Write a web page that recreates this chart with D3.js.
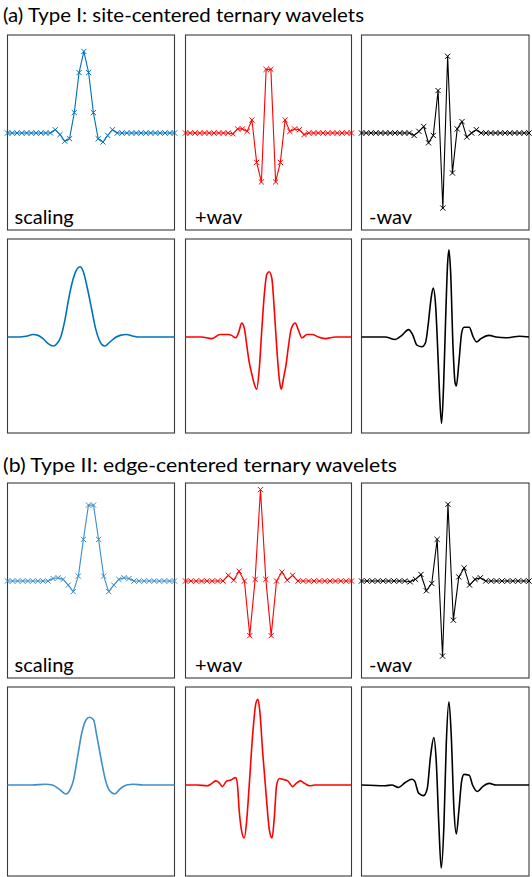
<!DOCTYPE html>
<html><head><meta charset="utf-8">
<script src="https://cdn.jsdelivr.net/npm/d3@7"></script>
<style>body{margin:0;background:#fff}svg{display:block}</style>
</head><body>
<script>
// ---------- data ----------
const titles = ["(a) Type I: site-centered ternary wavelets", "(b) Type II: edge-centered ternary wavelets"];
const panelLabels = ["scaling", "+wav", "-wav"];

// filter coefficients (markers), uniform sample grid
const scalingA = [0,0,0,0,0,0,0,0,0,0, 0.04,-0.02,-0.10,-0.07,0.25,0.74,1.0,0.74,0.25,-0.07,-0.11,-0.03,0.04, 0,0,0,0,0,0,0,0,0,0,0,0,0];
const plusA    = [0,0,0,0,0,0,0,0,0,0, -0.01,0.05,0.05,0.02,0.16,-0.36,-0.60,0.78,0.78,-0.60,-0.36,0.16,0.02,0.05,0.04,-0.02, 0,0,0,0,0,0,0,0,0,0];
const minusA   = [0,0,0,0,0,0,0,0,0,0,0, -0.03,0.02,0.08,-0.12,-0.03,0.52,-0.92,0.94,-0.49,0.05,0.14,-0.05,0.0,0.04, 0,0,0,0,0,0,0,0,0,0,0];
const scalingB = [0,0,0,0,0,0,0,0,0, 0.03,0.04,0.02,-0.05,-0.13,0.06,0.51,0.93,0.93,0.51,0.06,-0.13,-0.05,0.02,0.04,0.03, 0,0,0,0,0,0,0,0,0];
const plusB    = [0,0,0,0,0,0,0, 0.0,0.07,0.01,0.12,0.0,-0.67,0.02,1.12,0.02,-0.67,0.0,0.11,0.01,0.07,0.0, 0,0,0,0,0,0,0,0,0,0];
const minusB   = [0,0,0,0,0,0,0,0,0, -0.01,0.02,0.08,-0.12,-0.03,0.51,-0.92,0.94,-0.48,0.05,0.16,-0.05,0.02,0.04, 0,0,0,0,0,0,0,0,0];

// limit functions: [position (0-100 across panel), value]
const scalingAFn = [[0,0],[7.2,0],[11.2,0.01],[15.3,0.03],[18.3,0.02],[21.3,-0.02],[24.3,-0.08],[27.7,-0.11],[29.7,-0.08],[31.9,0],[34.3,0.2],[36.3,0.43],[38.4,0.64],[40.4,0.78],[43.4,0.86],[45.4,0.8],[47.8,0.6],[50.4,0.34],[52.8,0.1],[54.8,-0.03],[56.4,-0.09],[58.4,-0.11],[61.4,-0.06],[65.1,0],[67.5,0.02],[71.1,0.03],[75.5,0.01],[78.5,0],[100,0]];
const plusAFn = [[0,0],[9.7,0],[15.7,-0.02],[20.8,0.03],[25.8,0.03],[27.8,0.02],[30.2,-0.01],[31.9,0.05],[33.9,0.17],[35.5,0.1],[36.9,-0.1],[38.3,-0.3],[39.9,-0.45],[41.5,-0.58],[42.9,-0.64],[44.4,-0.4],[46.0,0.1],[47.6,0.55],[49.0,0.77],[50.4,0.8],[52.0,0.72],[53.6,0.3],[55.2,-0.2],[56.7,-0.55],[57.7,-0.64],[59.1,-0.5],[60.5,-0.35],[62.1,-0.1],[63.7,0.1],[66.1,0.17],[68.1,0.08],[70.2,-0.01],[73.2,0.03],[76.2,0.03],[80.2,0],[84.3,-0.02],[90.3,0],[100,0]];
const minusAFn = [[0,0],[14.1,0],[20.1,-0.03],[24.1,0.02],[28.1,0.09],[30.5,0.03],[33.1,-0.1],[36.1,-0.12],[38.2,-0.07],[39.8,0.15],[41.4,0.45],[42.8,0.6],[44.2,0.4],[45.8,-0.3],[46.6,-0.7],[47.8,-1.06],[49.0,-0.6],[50.2,0.2],[51.4,0.9],[52.2,1.07],[53.2,0.8],[54.6,-0.1],[55.8,-0.55],[56.6,-0.6],[58.2,-0.3],[59.8,0.05],[61.2,0.12],[64.3,0.12],[66.7,0],[68.7,-0.06],[71.3,-0.02],[76.3,0.02],[80.3,0],[86.3,-0.01],[94.4,0.01],[100,0]];
const scalingBFn = [[0,0],[14.7,0],[22.8,0.01],[26.9,0],[30.9,-0.05],[34.9,-0.11],[37.4,-0.06],[39.4,0.05],[42.0,0.35],[44.6,0.65],[47.1,0.8],[49.1,0.83],[51.5,0.8],[53.5,0.6],[56.2,0.3],[58.8,0.05],[61.2,-0.07],[64.2,-0.11],[67.3,-0.05],[71.3,0],[75.4,0.01],[81.4,0],[100,0]];
const plusBFn = [[0,0],[7.1,0],[13.1,-0.01],[15.2,0.01],[18.2,0.05],[20.2,0.03],[22.2,-0.02],[24.8,0.05],[27.3,0.06],[30.3,0.09],[31.3,0],[32.3,-0.3],[33.7,-0.55],[35.4,-0.65],[36.8,-0.45],[38.4,0],[40.4,0.6],[42.4,1.0],[43.6,1.05],[44.8,0.9],[46.5,0.4],[48.5,-0.1],[50.5,-0.55],[52.1,-0.65],[53.5,-0.4],[54.9,0],[56.6,0.08],[58.6,0.07],[61.6,0.05],[64.6,-0.02],[66.7,0.02],[69.3,0.05],[71.7,0.02],[74.7,-0.01],[77.8,0],[100,0]];
const minusBFn = [[0,0],[14.1,-0.01],[18.1,0],[22.1,-0.03],[26.1,0.03],[30.1,0.07],[31.7,0.05],[34.1,-0.1],[37.1,-0.13],[39.2,-0.05],[41.2,0.35],[43.2,0.58],[44.6,0.3],[46.2,-0.5],[47.6,-1.02],[49.2,-0.5],[50.6,0.5],[52.2,1.02],[53.6,0.6],[55.2,-0.3],[56.6,-0.6],[58.2,-0.3],[59.8,0.05],[61.2,0.13],[64.3,0.12],[66.3,0],[69.3,-0.08],[72.3,-0.02],[76.3,0.02],[80.3,0],[88.4,0],[100,0]];

// ---------- layout ----------
const W = 532, H = 877;
const colX = [7.5, 185.5, 361.5];
const colW = [167, 166, 167.5];
const rowTop = [35, 239, 483, 687];
const rowH = [195, 194, 195, 189];
const zeroOff = 98;      // zero line offset from panel top
const unitPx = 81.6;     // pixels per unit value
const blueA = "#0072BD", blueB = "#3d8ec9";

const svg = d3.select("body").append("svg").attr("width", W).attr("height", H);
const font = "Lato, 'Open Sans', sans-serif";

svg.append("text").attr("x", 3).attr("y", 22).attr("font-family", font).attr("font-size", 19)
  .attr("textLength", 361).attr("lengthAdjust", "spacingAndGlyphs").attr("fill", "#000").text(titles[0]);
svg.append("text").attr("x", 3).attr("y", 472).attr("font-family", font).attr("font-size", 19)
  .attr("textLength", 394).attr("lengthAdjust", "spacingAndGlyphs").attr("fill", "#000").text(titles[1]);

const panels = [
  {row:0, col:0, kind:"m", data:scalingA, color:blueA, label:0},
  {row:0, col:1, kind:"m", data:plusA, color:"#ff0000", label:1},
  {row:0, col:2, kind:"m", data:minusA, color:"#000", label:2},
  {row:1, col:0, kind:"c", data:scalingAFn, color:blueA},
  {row:1, col:1, kind:"c", data:plusAFn, color:"#ff0000"},
  {row:1, col:2, kind:"c", data:minusAFn, color:"#000"},
  {row:2, col:0, kind:"m", data:scalingB, color:blueB, label:0},
  {row:2, col:1, kind:"m", data:plusB, color:"#ff0000", label:1},
  {row:2, col:2, kind:"m", data:minusB, color:"#000", label:2},
  {row:3, col:0, kind:"c", data:scalingBFn, color:blueB},
  {row:3, col:1, kind:"c", data:plusBFn, color:"#ff0000"},
  {row:3, col:2, kind:"c", data:minusBFn, color:"#000"},
];

const labelX = [14.5, 195, 369];

panels.forEach(p => {
  const x0 = colX[p.col], w = colW[p.col], y0 = rowTop[p.row], h = rowH[p.row];
  const g = svg.append("g");
  const y = d3.scaleLinear().domain([-1, 1]).range([y0 + zeroOff + unitPx, y0 + zeroOff - unitPx]);
  let x, pts;
  if (p.kind === "m") {
    x = d3.scaleLinear().domain([0, p.data.length - 1]).range([x0, x0 + w]);
    pts = p.data.map((v, i) => [x(i), y(v)]);
  } else {
    x = d3.scaleLinear().domain([0, 100]).range([x0, x0 + w]);
    pts = p.data.map(d => [x(d[0]), y(d[1])]);
  }
  // box
  g.append("rect").attr("x", x0).attr("y", y0).attr("width", w).attr("height", h)
    .attr("fill", "none").attr("stroke", "#3a3a3a").attr("stroke-width", 1.1);
  const line = d3.line().curve(p.kind === "m" ? d3.curveLinear : d3.curveMonotoneX);
  g.append("path").attr("d", line(pts)).attr("fill", "none").attr("stroke", p.color)
    .attr("stroke-width", p.kind === "m" ? 1.1 : 1.6).attr("stroke-linejoin", "round");
  if (p.kind === "m") {
    const s = 2.6;
    g.selectAll("path.mk").data(pts).join("path").attr("class", "mk")
      .attr("d", d => `M${d[0]-s},${d[1]-s}L${d[0]+s},${d[1]+s}M${d[0]-s},${d[1]+s}L${d[0]+s},${d[1]-s}`)
      .attr("stroke", p.color).attr("stroke-width", 1).attr("fill", "none");
    g.append("text").attr("x", labelX[p.col]).attr("y", y0 + 189).attr("font-family", font)
      .attr("font-size", 20).attr("fill", "#000").text(panelLabels[p.label]);
  }
});
</script>
</body></html>
